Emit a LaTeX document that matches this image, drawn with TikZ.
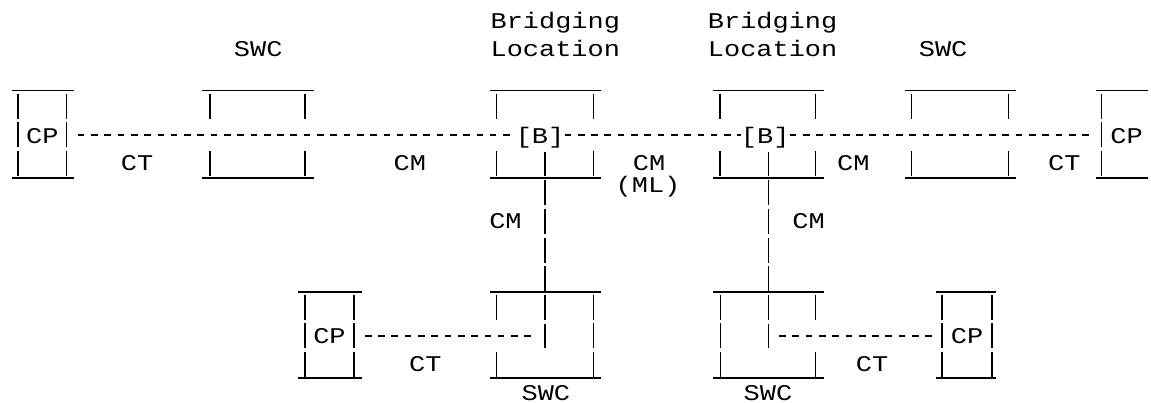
\documentclass[tikz,border=0pt]{standalone}
\usepackage{fontspec}
\usepackage{tikz}
\usetikzlibrary{positioning}
\newfontfamily\asciifont[FakeStretch=1.2]{Liberation Mono}
\tikzset{node distance=21pt, auto}
\tikzset{
  txt/.style={font=\asciifont\fontsize{16.9pt}{18pt}\selectfont, inner sep=0pt, text height=13pt, text depth=1pt},
  cp/.style={txt, minimum width=36.75pt, outer xsep=8.25pt},
  rule/.style={line width=1pt},
  glyph/.style={line width=1pt, dash pattern=on 18.75pt off 2.85pt},
  gapbar/.style={line width=1pt, dash pattern=on 18.75pt off 24.45pt},
  link/.style={line width=1pt, dash pattern=on 5pt off 5pt}
}

\begin{document}
\begin{tikzpicture}[x=0.75pt, y=-0.75pt]

              \fill[white] (0,0) rectangle (1151,404);

              \node (BL1) [txt] at (557,20.5) {Bridging};
              \node (L1)  [txt, below of=BL1] {Location};
              \node (BL2) [txt] at (775,20.5) {Bridging};
              \node (L2)  [txt, below of=BL2] {Location};
              \node (SWC1) [txt] at (259,48.5) {SWC};
              \node (SWC2) [txt] at (946,48.5) {SWC};

              \node (CP1) [cp] at (42.5,135.5) {CP};
              \node (B1)  [txt] at (541.7,135.5) {[B]};
              \node (B2)  [txt] at (767.5,135.5) {[B]};
              \node (CP2) [cp] at (1130,135.5) {CP};

              \node (CT1) [txt] at (137.5,163.5) {CT};
              \node (CM1) [txt] at (411,163.5) {CM};
              \node (CM2) [txt] at (651,163.5) {CM};
              \node (ML)  [txt] at (650,185.5) {(ML)};
              \node (CM3) [txt] at (856,163.5) {CM};
              \node (CT2) [txt] at (1067.5,163.5) {CT};
              \node (CM4) [txt] at (507,221) {CM};
              \node (CM5) [txt] at (811,221) {CM};

              \node (CP3) [cp] at (330.5,337) {CP};
              \node (CP4) [cp] at (970,337) {CP};
              \coordinate (J1) at (546.7,337);
              \coordinate (J2) at (770.5,337);
              \node (CT3) [txt] at (426.7,365) {CT};
              \node (CT4) [txt] at (874.7,365) {CT};
              \node (SWC3) [txt] at (547.5,394) {SWC};
              \node (SWC4) [txt] at (770.3,394) {SWC};

              \draw [rule] (12,91) -- (74,91) (202.7,91) -- (315,91) (491.7,91) -- (603.3,91)
                           (715,91) -- (826.7,91) (907.3,91) -- (1019.5,91) (1099.3,91) -- (1151,91)
                           (12,178.5) -- (74,178.5) (202.7,178.5) -- (315,178.5) (491.7,178.5) -- (603.3,178.5)
                           (715,178.5) -- (826.7,178.5) (907.3,178.5) -- (1019.5,178.5) (1099.3,178.5) -- (1151,178.5)
                           (299.3,293) -- (362.7,293) (491.7,293) -- (602.7,293) (715,293) -- (826.7,293) (939.3,293) -- (999.3,293)
                           (299.3,379) -- (362.7,379) (491.7,379) -- (602.7,379) (715,379) -- (826.7,379) (939.3,379) -- (999.3,379);

              \draw [glyph] (18,94) -- (18,177) (67,94) -- (67,177) (1105,94) -- (1105,177)
                            (306,295.6) -- (306,378.2) (355,295.6) -- (355,378.2) (595,295.6) -- (595,378.2)
                            (722.7,295.6) -- (722.7,378.2) (945,295.6) -- (945,378.2) (995,295.6) -- (995,378.2);
              \draw [gapbar] (210.7,94) -- (210.7,177) (306,94) -- (306,177) (498.3,94) -- (498.3,177) (595,94) -- (595,177)
                             (722.3,94) -- (722.3,177) (818.3,94) -- (818.3,177) (914,94) -- (914,177) (1011.7,94) -- (1011.7,177)
                             (498.3,295.6) -- (498.3,378.2) (818.3,295.6) -- (818.3,378.2);
              \draw [glyph] (546.7,152) -- (546.7,349.4) (770.5,152) -- (770.5,349.4);

              \draw [link] (CP1) -- (B1);
              \draw [link] (B1) -- (B2);
              \draw [link] (B2) -- (CP2);
              \draw [link, shorten >=8.75pt] (CP3) -- (J1);
              \draw [link, shorten <=8.25pt] (J2) -- (CP4);
            \end{tikzpicture}
\end{document}
